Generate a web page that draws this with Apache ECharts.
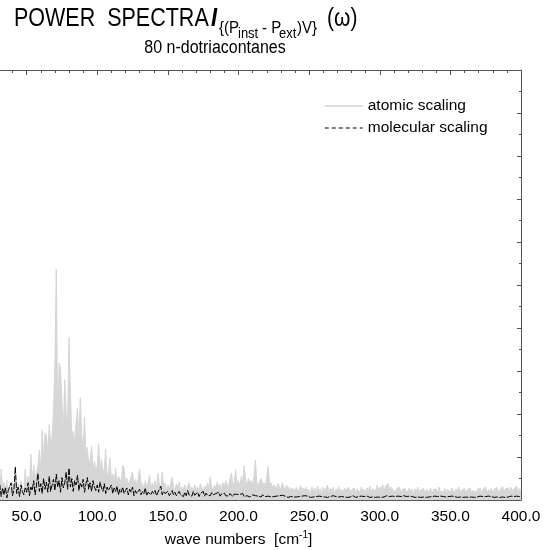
<!DOCTYPE html>
<html>
<head>
<meta charset="utf-8">
<script src="https://cdn.jsdelivr.net/npm/echarts@6/dist/echarts.min.js"></script>
<style>
html,body{margin:0;padding:0;background:#fff;overflow:hidden;width:559px;height:550px;position:relative;}
#chart{position:absolute;left:-44px;top:0;width:603px;height:550px;}
</style>
</head>
<body>
<div id="chart"></div>
<script>
// wave numbers [cm^-1]: first value and step of the sampled spectra
const waveStart = 30;
const waveStep = 1;
const xTicks = [0, 50, 100, 150, 200, 250, 300, 350, 400];
const yTicks = [0, 1, 2, 3, 4, 5, 6, 7, 8, 9, 10];
const seriesNames = ['atomic scaling', 'molecular scaling'];

// atomic scaling, 30..400 cm^-1
const atomicScaling = [
0.35,0.12,0.72,0.20,0.41,0.15,0.47,0.10,0.33,0.22,
0.40,0.14,0.55,0.25,0.38,0.12,0.45,0.30,0.18,0.72,
0.28,0.55,0.30,1.07,0.40,0.81,0.50,0.65,0.80,1.16,
0.70,1.63,0.95,1.56,1.50,1.10,1.75,1.30,1.45,2.05,
3.10,5.37,1.70,3.18,3.05,2.30,1.60,2.80,2.00,1.75,
3.78,2.49,1.50,1.60,1.35,1.80,2.14,1.40,2.37,1.50,
1.20,1.93,1.00,1.23,0.80,0.95,1.25,0.70,0.90,0.65,
0.80,1.30,0.70,0.95,0.60,0.75,1.18,0.55,0.65,0.98,
0.50,0.60,0.45,0.74,0.40,0.55,0.48,0.42,0.81,0.74,
0.38,0.50,0.35,0.45,0.55,0.65,0.36,0.48,0.35,0.50,
0.72,0.35,0.40,0.25,0.45,0.30,0.38,0.58,0.22,0.40,
0.30,0.45,0.25,0.62,0.35,0.28,0.65,0.30,0.40,0.22,
0.35,0.25,0.40,0.53,0.30,0.22,0.38,0.28,0.42,0.20,
0.30,0.25,0.35,0.20,0.32,0.40,0.22,0.30,0.18,0.35,
0.25,0.30,0.20,0.38,0.28,0.22,0.33,0.25,0.40,0.30,
0.54,0.30,0.25,0.35,0.28,0.42,0.30,0.36,0.25,0.40,
0.32,0.45,0.35,0.30,0.50,0.63,0.35,0.40,0.70,0.38,
0.45,0.30,0.55,0.40,0.80,0.45,0.35,0.50,0.40,0.45,
0.35,0.55,0.93,0.40,0.30,0.45,0.50,0.35,0.40,0.30,
0.55,0.78,0.35,0.40,0.28,0.35,0.30,0.25,0.38,0.30,
0.25,0.40,0.30,0.22,0.35,0.25,0.30,0.20,0.28,0.32,
0.22,0.30,0.18,0.25,0.33,0.20,0.28,0.22,0.30,0.18,
0.25,0.15,0.30,0.20,0.28,0.12,0.32,0.18,0.26,0.14,
0.30,0.20,0.24,0.35,0.16,0.28,0.22,0.30,0.14,0.26,
0.20,0.32,0.18,0.25,0.15,0.28,0.22,0.18,0.30,0.16,
0.24,0.20,0.28,0.14,0.26,0.22,0.18,0.30,0.20,0.25,
0.16,0.28,0.22,0.32,0.18,0.26,0.30,0.20,0.34,0.22,
0.30,0.25,0.36,0.20,0.32,0.28,0.38,0.22,0.30,0.25,
0.28,0.18,0.26,0.22,0.30,0.15,0.24,0.20,0.27,0.16,
0.22,0.28,0.18,0.25,0.14,0.26,0.20,0.30,0.16,0.24,
0.20,0.27,0.15,0.25,0.22,0.18,0.28,0.14,0.24,0.20,
0.26,0.16,0.30,0.20,0.24,0.18,0.27,0.15,0.25,0.21,
0.18,0.28,0.22,0.16,0.26,0.20,0.30,0.17,0.23,0.19,
0.27,0.15,0.24,0.20,0.28,0.16,0.22,0.26,0.18,0.24,
0.20,0.28,0.15,0.25,0.21,0.30,0.17,0.24,0.19,0.27,
0.16,0.25,0.22,0.29,0.18,0.24,0.20,0.31,0.17,0.26,
0.22,0.28,0.18,0.30,0.20,0.26,0.24,0.32,0.19,0.27,
0.22
];

// molecular scaling, 30..400 cm^-1
const molecularScaling = [
0.15,0.35,0.08,0.28,0.12,0.30,0.05,0.22,0.18,0.40,
0.10,0.25,0.77,0.15,0.30,0.08,0.35,0.20,0.12,0.28,
0.18,0.40,0.10,0.30,0.22,0.45,0.12,0.35,0.62,0.20,
0.38,0.15,0.50,0.25,0.42,0.18,0.55,0.20,0.35,0.48,
0.22,0.60,0.30,0.45,0.18,0.52,0.28,0.40,0.65,0.25,
0.74,0.30,0.50,0.20,0.45,0.35,0.58,0.22,0.40,0.30,
0.48,0.18,0.38,0.52,0.25,0.40,0.20,0.45,0.30,0.22,
0.35,0.18,0.42,0.28,0.20,0.38,0.15,0.30,0.22,0.25,
0.35,0.15,0.28,0.20,0.32,0.12,0.25,0.18,0.30,0.15,
0.22,0.28,0.12,0.25,0.18,0.30,0.10,0.22,0.15,0.20,
0.25,0.12,0.20,0.15,0.28,0.10,0.18,0.22,0.12,0.20,
0.15,0.22,0.10,0.18,0.25,0.32,0.12,0.20,0.15,0.18,
0.20,0.10,0.15,0.22,0.12,0.18,0.10,0.15,0.20,0.12,
0.15,0.08,0.18,0.10,0.22,0.12,0.16,0.09,0.20,0.11,
0.14,0.18,0.08,0.15,0.12,0.20,0.09,0.16,0.11,0.14,
0.10,0.17,0.12,0.08,0.15,0.11,0.18,0.09,0.14,0.12,
0.16,0.10,0.13,0.09,0.15,0.12,0.08,0.14,0.11,0.13,
0.09,0.13,0.10,0.15,0.08,0.12,0.10,0.14,0.07,0.11,
0.12,0.08,0.10,0.13,0.09,0.11,0.07,0.12,0.10,0.08,
0.11,0.09,0.12,0.07,0.10,0.08,0.11,0.09,0.06,0.10,
0.08,0.11,0.07,0.09,0.10,0.06,0.09,0.08,0.11,0.07,
0.09,0.07,0.10,0.08,0.06,0.09,0.08,0.10,0.07,0.09,
0.08,0.06,0.09,0.07,0.10,0.08,0.06,0.09,0.07,0.08,
0.10,0.07,0.08,0.06,0.09,0.08,0.07,0.10,0.06,0.08,
0.09,0.07,0.06,0.08,0.10,0.07,0.09,0.06,0.08,0.07,
0.08,0.10,0.07,0.06,0.09,0.08,0.07,0.09,0.06,0.08,
0.07,0.09,0.08,0.06,0.10,0.07,0.08,0.06,0.09,0.07,
0.08,0.06,0.09,0.07,0.08,0.10,0.06,0.08,0.07,0.09,
0.06,0.08,0.07,0.09,0.06,0.08,0.07,0.10,0.06,0.08,
0.07,0.09,0.06,0.08,0.07,0.06,0.09,0.07,0.08,0.06,
0.09,0.07,0.08,0.06,0.10,0.07,0.06,0.08,0.07,0.09,
0.06,0.08,0.07,0.09,0.06,0.08,0.10,0.07,0.06,0.08,
0.07,0.09,0.06,0.08,0.07,0.06,0.09,0.07,0.08,0.06,
0.08,0.07,0.09,0.06,0.08,0.07,0.10,0.06,0.08,0.07,
0.06,0.09,0.07,0.08,0.06,0.08,0.07,0.09,0.06,0.08,
0.07,0.06,0.09,0.07,0.08,0.06,0.10,0.07,0.08,0.06,
0.08,0.07,0.06,0.09,0.07,0.08,0.06,0.09,0.07,0.08,
0.07
];

const toPairs = arr => arr.map((v, i) => [waveStart + i * waveStep, v]);

const FONT = "'Liberation Sans', Arial, Helvetica, sans-serif";
const AXIS_COLOR = '#555';
const GRAY = '#d6d6d6';
const OFF = 44; // chart container starts 44px left of the page

function txt(text, x, y, size, extra, sy) {
  const s = sy || 1;
  return {
    type: 'text', x: x + OFF, y: y, silent: true,
    scaleY: s, originX: 0, originY: 0,
    style: Object.assign({
      text: text, fill: '#000', fontFamily: FONT, fontSize: size,
      align: 'left', verticalAlign: 'middle',
      textAlign: 'left', textVerticalAlign: 'middle'
    }, extra || {})
  };
}

const chart = echarts.init(document.getElementById('chart'), null, {renderer: 'canvas'});

const xCommon = {
  type: 'value',
  min: xTicks[0],
  max: xTicks[xTicks.length - 1],
  interval: xTicks[1] - xTicks[0],
  splitLine: {show: false},
  axisLine: {show: true, onZero: false, lineStyle: {color: AXIS_COLOR, width: 1}},
  axisTick: {show: true, inside: true, length: 5, lineStyle: {color: AXIS_COLOR}},
  minorTick: {show: true, splitNumber: 5, length: 3, lineStyle: {color: AXIS_COLOR}}
};
const yCommon = {
  type: 'value',
  min: yTicks[0],
  max: yTicks[yTicks.length - 1],
  interval: yTicks[1] - yTicks[0],
  splitLine: {show: false},
  axisLabel: {show: false},
  axisLine: {show: true, onZero: false, lineStyle: {color: AXIS_COLOR, width: 1}},
  axisTick: {show: true, inside: true, length: 4, lineStyle: {color: AXIS_COLOR}},
  minorTick: {show: true, splitNumber: 2, length: 2, lineStyle: {color: AXIS_COLOR}}
};

const option = {
  animation: false,
  backgroundColor: '#fff',
  grid: {left: 0, right: 38, top: 70, bottom: 50, containLabel: false, outerBoundsMode: 'none'},
  legend: {
    data: [
      {name: seriesNames[0], lineStyle: {color: GRAY, width: 1.5, type: 'solid'}},
      {name: seriesNames[1], lineStyle: {color: '#000', width: 1, type: [4, 3]}}
    ],
    orient: 'vertical',
    left: 319 + OFF,
    top: 93,
    itemWidth: 38,
    itemHeight: 14,
    itemGap: 6,
    itemStyle: {opacity: 0},
    textStyle: {fontFamily: FONT, fontSize: 15.5, color: '#000'}
  },
  xAxis: [
    Object.assign({}, xCommon, {
      position: 'bottom',
      name: '{a|wave numbers  [cm}{s|-1}{a|]}',
      nameLocation: 'middle',
      nameGap: 27,
      nameTextStyle: {
        rich: {
          a: {fontFamily: FONT, fontSize: 15.5, color: '#000', lineHeight: 20},
          s: {fontFamily: FONT, fontSize: 10, color: '#000', verticalAlign: 'top', lineHeight: 12}
        }
      },
      axisLabel: {
        show: true, margin: 9, color: '#000', fontFamily: FONT, fontSize: 15.5,
        showMinLabel: true, showMaxLabel: true,
        formatter: v => v.toFixed(1)
      }
    }),
    Object.assign({}, xCommon, {position: 'top', axisLabel: {show: false}})
  ],
  yAxis: [
    Object.assign({}, yCommon, {position: 'left'}),
    Object.assign({}, yCommon, {position: 'right'})
  ],
  series: [
    {
      name: seriesNames[0], type: 'line', xAxisIndex: 0, yAxisIndex: 0,
      data: toPairs(atomicScaling), symbol: 'none', showSymbol: false,
      lineStyle: {color: GRAY, width: 1}, itemStyle: {color: GRAY},
      areaStyle: {color: GRAY, opacity: 1},
      z: 2
    },
    {
      name: seriesNames[1], type: 'line', xAxisIndex: 0, yAxisIndex: 0,
      data: toPairs(molecularScaling), symbol: 'none', showSymbol: false,
      lineStyle: {color: '#000', width: 1, type: [6, 1.5]}, itemStyle: {color: '#000'},
      z: 3
    }
  ],
  graphic: [
    txt('POWER  SPECTRA', 14, 18.5, 21.5, null, 1.2),
    txt('I', 211, 18.5, 22, {fontWeight: 'bold', fontStyle: 'italic'}, 1.2),
    txt('{(P', 219, 28.5, 15, null, 1.15),
    txt('inst', 238, 34, 13, null, 1.15),
    txt('- P', 262, 28.5, 15, null, 1.15),
    txt('ext', 279, 34, 13, null, 1.15),
    txt(')V}', 297, 28.5, 15, null, 1.15),
    txt('(\u03c9)', 327, 19, 21, null, 1.2),
    txt('80 n-dotriacontanes', 215, 48, 16, {align: 'center', textAlign: 'center'}, 1.1)
  ]
};

chart.setOption(option);
</script>
</body>
</html>
